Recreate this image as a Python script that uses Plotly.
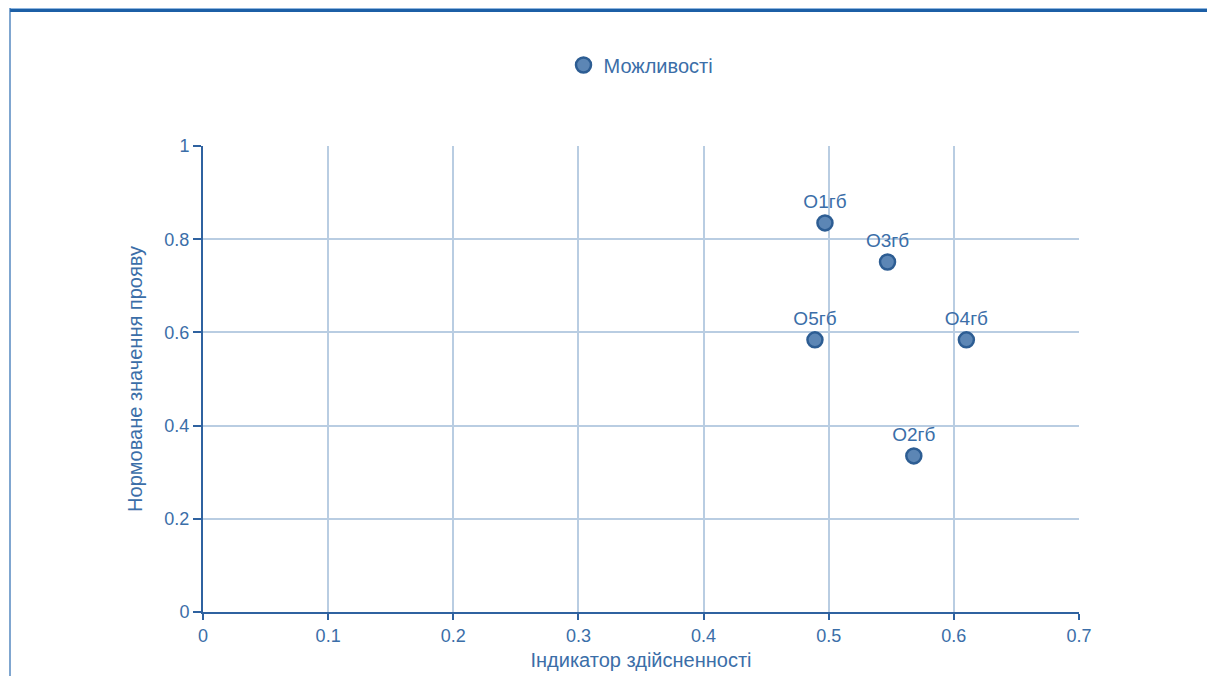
import plotly.graph_objects as go

labels = ["O1гб", "O2гб", "O3гб", "O4гб", "O5гб"]
x_vals = [0.497, 0.568, 0.547, 0.610, 0.489]
y_vals = [0.835, 0.335, 0.751, 0.584, 0.584]

series_name = "Можливості"
x_title = "Індикатор здійсненності"
y_title = "Нормоване значення прояву"

TXT = "#3b6ea8"
AX = "#2f62a0"
GRID = "#b9cde2"
FONT = "Liberation Sans, Arial, sans-serif"

fig = go.Figure()
fig.add_trace(go.Scatter(
    x=x_vals, y=y_vals, mode="markers+text", name=series_name,
    text=labels, textposition="top center",
    textfont=dict(size=19, color=TXT, family=FONT),
    marker=dict(size=15, color="#5c86b5", line=dict(color="#2d5d93", width=2.5)),
    showlegend=True,
))

# the page body adds an 8px offset; figure is sized to fill the rest
W, H = 1207, 668
L, R, T, B = 195, 136, 138, 64
pw, ph = W - L - R, H - T - B

def px2x(px):
    return (px - L) / pw

def py2y(py):
    return (H - B - py) / ph

fig.update_layout(
    width=W, height=H,
    margin=dict(l=L, r=R, t=T, b=B),
    paper_bgcolor="white", plot_bgcolor="white",
    font=dict(family=FONT, color=TXT, size=18),
    showlegend=True,
    legend=dict(orientation="h", x=0.5, xanchor="center", y=py2y(57), yanchor="middle",
                font=dict(size=20, color=TXT, family=FONT), itemsizing="trace"),
    xaxis=dict(range=[0, 0.7], tickvals=[0, 0.1, 0.2, 0.3, 0.4, 0.5, 0.6, 0.7],
               ticktext=["0", "0.1", "0.2", "0.3", "0.4", "0.5", "0.6", "0.7"],
               showgrid=True, gridcolor=GRID, gridwidth=1.5,
               showline=True, linecolor=AX, linewidth=2,
               ticks="outside", ticklen=6, tickcolor=AX, tickwidth=1.5,
               tickfont=dict(size=18, color=TXT), zeroline=False, automargin=False,
               title=dict(text=x_title, font=dict(size=20, color=TXT), standoff=8)),
    yaxis=dict(range=[0, 1], tickvals=[0, 0.2, 0.4, 0.6, 0.8, 1],
               ticktext=["0", "0.2", "0.4", "0.6", "0.8", "1"],
               showgrid=True, gridcolor=GRID, gridwidth=1.5,
               showline=True, linecolor=AX, linewidth=2,
               ticks="outside", ticklen=8, tickcolor=AX, tickwidth=1.5,
               tickfont=dict(size=18, color=TXT), zeroline=False, automargin=False,
               title=dict(text=y_title, font=dict(size=20, color=TXT), standoff=16)),
    shapes=[
        dict(type="line", xref="paper", yref="paper", x0=px2x(2), x1=px2x(W),
             y0=py2y(0.5), y1=py2y(0.5), line=dict(color="#8fb6df", width=1.5)),
        dict(type="line", xref="paper", yref="paper", x0=px2x(2), x1=px2x(W),
             y0=py2y(2.5), y1=py2y(2.5), line=dict(color="#1c5fa6", width=3)),
        dict(type="line", xref="paper", yref="paper", x0=px2x(2), x1=px2x(2),
             y0=py2y(0), y1=py2y(H), line=dict(color="#2a6bb0", width=1.2)),
    ],
)

fig.write_html("out.html")
